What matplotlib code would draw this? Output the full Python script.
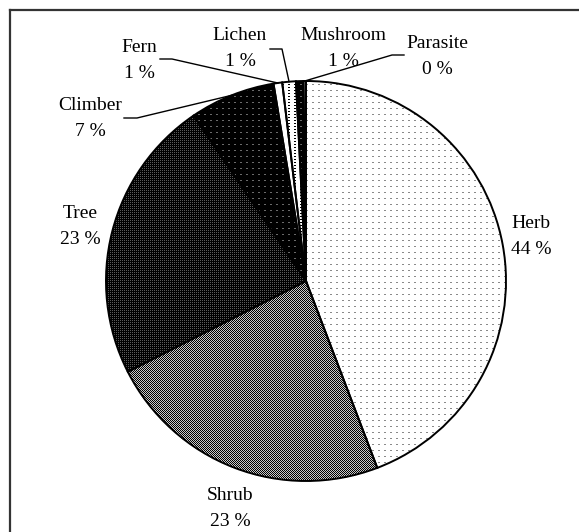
import matplotlib
matplotlib.use("Agg")

import matplotlib.pyplot as plt
import numpy as np
from matplotlib.lines import Line2D

# --- data --------------------------------------------------------------------
categories = ["Herb", "Shrub", "Tree", "Climber", "Fern", "Lichen", "Mushroom", "Parasite"]
shares = [44.2, 23.3, 23.0, 6.9, 0.7, 1.1, 0.6, 0.2]
pct_labels = [f"{round(v):.0f} %" for v in shares]

# --- layout (image pixels, y measured from the top) ---------------------------
W, H = 579, 532
CENTER = (306, 281)
RADIUS = 200
FONT = "Liberation Serif"
FS = 14

# label block centres (name on top, percentage below)
label_pos = {
    "Herb": (531, 236), "Shrub": (230, 508), "Tree": (80, 226),
    "Climber": (90, 119), "Fern": (139, 60), "Lichen": (240, 49),
    "Mushroom": (343, 49), "Parasite": (437, 56),
}
# leader lines: (start at label, elbow) in image pixels
leaders = {
    "Climber": [(124, 118), (137, 118)],
    "Fern": [(160, 59), (172, 59)],
    "Lichen": [(270, 49), (282, 49)],
    "Parasite": [(404, 55), (392, 55)],
}


def texture(tile, fg, bg):
    """Tile a small 0/1 pattern over the whole canvas as an RGB image."""
    tile = np.asarray(tile)
    reps = (H // tile.shape[0] + 1, W // tile.shape[1] + 1)
    mask = np.tile(tile, reps)[:H, :W].astype(bool)
    img = np.empty((H, W, 3))
    img[:] = matplotlib.colors.to_rgb(bg)
    img[mask] = matplotlib.colors.to_rgb(fg)
    return img


dash6 = np.zeros((6, 6)); dash6[0, 0:2] = 1
dash_dense = np.zeros((3, 6)); dash_dense[0, 0:2] = 1
checker = np.array([[1, 0], [0, 1]])
dots2 = np.array([[0, 1], [1, 1]])
plain = np.zeros((1, 1))

fills = [
    texture(dash6, "#8a8a8a", "white"),     # Herb
    texture(checker, "black", "#c8c8c8"),   # Shrub
    texture(dots2, "black", "#5a5a5a"),     # Tree
    texture(dash6, "#6a6a6a", "black"),     # Climber
    texture(plain, "white", "white"),       # Fern
    texture(dash_dense, "black", "white"),  # Lichen
    texture(dash6, "#6a6a6a", "black"),     # Mushroom
    texture(plain, "white", "white"),       # Parasite
]

fig = plt.figure(figsize=(W / 100, H / 100), dpi=100)
ax = fig.add_axes([0, 0, 1, 1])

cx, cy = CENTER[0], H - CENTER[1]
wedges, _ = ax.pie(shares, startangle=90, counterclock=False, radius=RADIUS,
                   center=(cx, cy), frame=True,
                   wedgeprops=dict(facecolor="none", edgecolor="black",
                                   linewidth=1.4, zorder=3))
ax.set_xlim(0, W)
ax.set_ylim(0, H)
ax.set_aspect("equal")
ax.axis("off")

for w, img in zip(wedges, fills):
    im = ax.imshow(img, extent=(0, W, 0, H), origin="upper",
                   interpolation="nearest", zorder=2)
    im.set_clip_path(w)

# labels
for name, pct in zip(categories, pct_labels):
    x, y = label_pos[name]
    ax.text(x, H - (y - 13), name, ha="center", va="center",
            fontsize=FS, family=FONT, zorder=5)
    ax.text(x, H - (y + 13), pct, ha="center", va="center",
            fontsize=FS, family=FONT, zorder=5)

# leader lines to the middle of each small slice
for w, name in zip(wedges, categories):
    if name not in leaders:
        continue
    mid = np.deg2rad((w.theta1 + w.theta2) / 2)
    tip = (cx + RADIUS * np.cos(mid), cy + RADIUS * np.sin(mid))
    pts = [(px, H - py) for px, py in leaders[name]] + [tip]
    ax.plot([p[0] for p in pts], [p[1] for p in pts], color="black",
            lw=1.0, zorder=4)

# chart-area border (runs off the right and bottom of the picture)
fig.add_artist(Line2D([9.5 / W, 1.0], [1 - 10 / H, 1 - 10 / H],
                      transform=fig.transFigure, color="#333333", lw=1.6))
fig.add_artist(Line2D([9.5 / W, 9.5 / W], [0.0, 1 - 10 / H],
                      transform=fig.transFigure, color="#333333", lw=1.6))

fig.savefig("out.png", dpi=100, facecolor="white")
